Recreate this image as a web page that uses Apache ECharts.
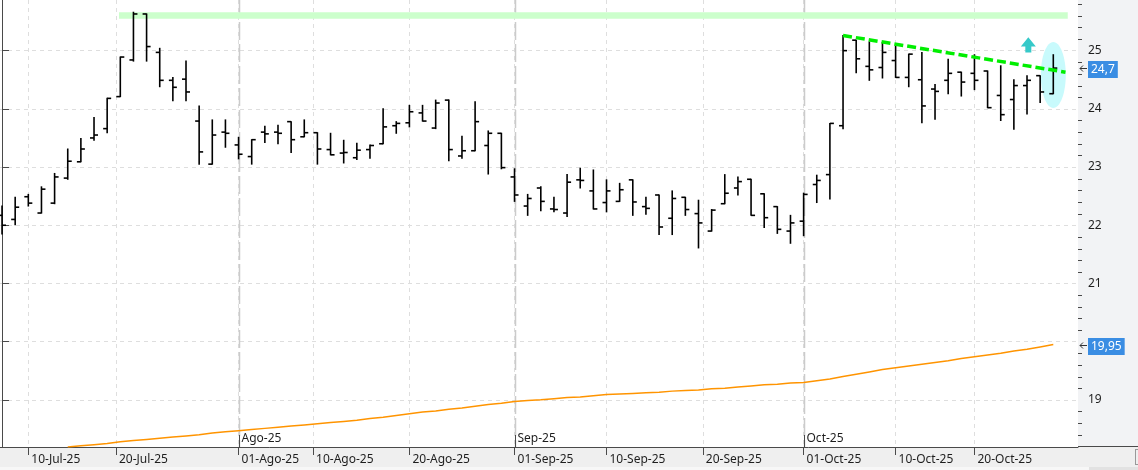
<!DOCTYPE html>
<html><head><meta charset="utf-8">
<script src="https://cdn.jsdelivr.net/npm/echarts@6/dist/echarts.min.js"></script>
<style>
html,body{margin:0;padding:0;background:#f2f3f5;overflow:hidden;}
#strip{position:absolute;left:0;top:447px;width:1138px;height:20px;background:#efefef;}
#strip2{position:absolute;left:0;top:467px;width:1089px;height:3px;background:#f7f7f7;}
#strip3{position:absolute;left:1089px;top:467px;width:49px;height:3px;background:#e2e2e2;}
#axl{position:absolute;left:0;top:446px;width:1138px;height:1px;background:#4a4a4a;}
#box{position:absolute;left:1135px;top:449px;width:6px;height:16px;border:1px solid #999;box-sizing:border-box;}
#c{position:absolute;left:0;top:0;width:1138px;height:470px;z-index:2;}
</style>
</head><body>
<div id="strip"></div><div id="strip2"></div><div id="strip3"></div><div id="axl"></div><div id="box"></div>
<div id="c"></div>
<script>
// ---- data (trading days, index = position on the x axis) ----
const days = [
 '08-Jul','09-Jul','10-Jul','11-Jul','14-Jul','15-Jul','16-Jul','17-Jul','18-Jul','21-Jul','22-Jul','23-Jul','24-Jul','25-Jul','28-Jul','29-Jul','30-Jul','31-Jul',
 '01-Ago','04-Ago','05-Ago','06-Ago','07-Ago','08-Ago','11-Ago','12-Ago','13-Ago','14-Ago','15-Ago','18-Ago','19-Ago','20-Ago','21-Ago','22-Ago','25-Ago','26-Ago','27-Ago','28-Ago','29-Ago',
 '01-Sep','02-Sep','03-Sep','04-Sep','05-Sep','08-Sep','09-Sep','10-Sep','11-Sep','12-Sep','15-Sep','16-Sep','17-Sep','18-Sep','19-Sep','22-Sep','23-Sep','24-Sep','25-Sep','26-Sep','29-Sep','30-Sep',
 '01-Oct','02-Oct','03-Oct','06-Oct','07-Oct','08-Oct','09-Oct','10-Oct','13-Oct','14-Oct','15-Oct','16-Oct','17-Oct','20-Oct','21-Oct','22-Oct','23-Oct','24-Oct','27-Oct','28-Oct'];
const opens  = [22.17,22.10,22.49,22.21,22.38,22.81,23.09,23.50,23.66,24.21,24.84,25.63,24.97,24.49,24.51,23.79,23.05,23.60,
 23.38,23.18,23.60,23.60,23.78,23.52,23.59,23.30,23.24,23.16,23.30,23.40,23.71,23.76,23.93,23.67,24.15,23.19,23.28,23.37,23.58,
 22.83,22.33,22.64,22.28,22.21,22.78,22.59,22.39,22.41,22.78,22.32,22.52,22.12,22.48,22.20,21.90,22.37,22.64,22.79,22.54,22.32,21.90,
 22.07,22.70,22.87,23.71,25.18,24.73,24.71,24.83,24.54,24.50,24.34,24.49,24.63,24.61,24.65,24.23,24.16,24.40,24.57,24.26];
const highs  = [22.33,22.48,22.53,22.66,22.89,23.31,23.49,23.85,24.18,24.89,25.66,25.63,25.04,24.54,24.82,24.05,23.81,23.81,
 23.51,23.47,23.70,23.72,23.78,23.81,23.59,23.58,23.46,23.41,23.38,24.00,23.78,24.06,24.06,24.15,24.15,23.53,24.12,23.62,23.58,
 22.97,22.53,22.66,22.48,22.87,22.98,22.95,22.78,22.72,22.78,22.48,22.52,22.59,22.48,22.43,22.27,22.87,22.83,22.79,22.54,22.32,22.17,
 22.55,22.86,23.75,25.26,25.18,25.15,25.14,25.09,24.94,24.97,24.42,24.85,24.63,24.93,24.65,24.74,24.50,24.57,24.57,24.93];
const lows   = [21.85,22.01,22.33,22.21,22.37,22.79,23.09,23.46,23.59,24.21,24.82,24.82,24.38,24.14,24.14,23.05,23.05,23.34,
 23.14,23.05,23.42,23.40,23.25,23.52,23.05,23.21,23.07,23.13,23.15,23.40,23.58,23.69,23.79,23.66,23.11,23.15,23.28,22.88,22.97,
 22.41,22.17,22.25,22.23,22.15,22.64,22.28,22.23,22.41,22.17,22.19,21.84,21.84,22.17,21.61,21.90,22.37,22.52,22.17,21.96,21.86,21.69,
 21.82,22.39,22.45,23.66,24.62,24.49,24.53,24.54,24.38,23.76,23.82,24.26,24.22,24.33,24.02,23.80,23.65,23.91,24.11,24.26];
const closes = [22.00,22.31,22.38,22.62,22.83,23.10,23.31,23.55,24.18,24.89,25.63,25.07,24.49,24.37,24.29,23.26,23.55,23.58,
 23.22,23.47,23.57,23.58,23.47,23.59,23.31,23.21,23.25,23.29,23.37,23.69,23.75,23.95,23.79,24.10,23.30,23.28,23.78,23.58,22.99,
 22.52,22.46,22.41,22.27,22.74,22.77,22.28,22.59,22.61,22.40,22.29,21.97,22.46,22.27,22.04,22.26,22.55,22.75,22.17,22.13,21.93,22.04,
 22.53,22.77,23.75,25.00,24.86,24.67,24.97,24.54,24.94,24.05,24.30,24.61,24.46,24.49,24.02,23.90,24.40,24.49,24.29,24.70];
// moving average (orange), starts at trading-day index 5
const maStart = 5;
const maValues = [18.19,18.21,18.23,18.25,18.28,18.30,18.32,18.34,18.36,18.38,18.40,18.43,18.45,18.47,18.49,18.51,18.53,18.55,18.57,18.59,
 18.61,18.63,18.65,18.68,18.70,18.73,18.76,18.79,18.81,18.84,18.86,18.89,18.92,18.94,18.97,18.99,19.00,19.02,19.04,19.05,
 19.07,19.09,19.10,19.11,19.12,19.13,19.15,19.16,19.17,19.19,19.20,19.22,19.24,19.26,19.27,19.29,19.30,19.33,19.36,19.40,
 19.44,19.48,19.52,19.55,19.58,19.61,19.64,19.67,19.71,19.74,19.77,19.80,19.84,19.87,19.91,19.95];
// x axis date ticks (weekend dates fall between trading days)
const xTickPos    = [2, 8.667, 18, 23.667, 31, 39, 46, 53.333, 61, 68, 74];
const xTickLabels = ['10-Jul-25','20-Jul-25','01-Ago-25','10-Ago-25','20-Ago-25','01-Sep-25','10-Sep-25','20-Sep-25','01-Oct-25','10-Oct-25','20-Oct-25'];
const monthPos    = [18, 39, 61];
const monthLabels = ['Ago-25','Sep-25','Oct-25'];
const yTicks      = [19, 20, 21, 22, 23, 24, 25];
// annotations (value coordinates)
const bandX = [8.9, 81.1];   const bandY = [25.55, 25.66];
const trendX = [64, 80.93];  const trendY = [25.26, 24.63];
const ovalCenter = [80, 24.58]; const ovalRadius = [0.95, 0.567];
const arrowX = 78.1; const arrowY = [24.97, 25.07, 25.23];

// ---- layout ----
const X_MIN = -0.155, X_MAX = 81.88, Y_MIN = 18.19, Y_MAX = 25.87;
const minorTicks = []; for (let k = 91; k <= 129; k++) if (k % 5 !== 0) minorTicks.push(k / 5);
const FONT = '"Noto Sans", sans-serif';
const tagValues = [closes[closes.length - 1], maValues[maValues.length - 1]];

const chart = echarts.init(document.getElementById('c'));
const fmt = v => String(v).replace('.', ',');

chart.setOption({
  animation: false,
  grid: {left: 0, right: 60, top: 0, bottom: 23, show: true, backgroundColor: '#ffffff', borderWidth: 0},
  xAxis: {
    type: 'value', min: X_MIN, max: X_MAX,
    axisLine: {show: true, onZero: false, lineStyle: {color: '#4a4a4a', width: 1}},
    axisTick: {show: true, customValues: xTickPos, length: 8, lineStyle: {color: '#4a4a4a'}},
    axisLabel: {customValues: xTickPos, hideOverlap: false, align: 'left', margin: 7, padding: [0,0,0,3],
      color: '#1e1e1e', fontSize: 12, fontFamily: FONT,
      formatter: v => { const i = xTickPos.findIndex(p => Math.abs(p - v) < 1e-3); return i >= 0 ? xTickLabels[i] : ''; }},
    splitLine: {show: true, lineStyle: {color: '#dedede', type: [4, 4], width: 1}}
  },
  yAxis: {
    type: 'value', position: 'right', min: Y_MIN, max: Y_MAX,
    axisLine: {show: true, lineStyle: {color: '#4a4a4a', width: 1}},
    axisTick: {show: true, customValues: yTicks, length: 7, lineStyle: {color: '#4a4a4a'}},
    axisLabel: {customValues: yTicks, margin: 10, color: '#1e1e1e', fontSize: 12, fontFamily: FONT,
      // labels hidden behind the last-value tags
      formatter: v => tagValues.some(t => Math.abs(t - v) < 0.15) ? '' : fmt(v)},
    splitLine: {show: true, lineStyle: {color: '#dedede', type: [4, 4], width: 1}}
  },
  series: [
    { // minor ticks of the price axis
      type: 'custom', z: 1, clip: false, silent: true,
      data: minorTicks.map(v => [X_MAX, v]),
      renderItem: (params, api) => {
        const p = api.coord([api.value(0), api.value(1)]); const y = Math.round(p[1]) + 0.5;
        return {type: 'line', shape: {x1: p[0], y1: y, x2: p[0] + 4, y2: y}, style: {stroke: '#4a4a4a', lineWidth: 1}};
      }
    },
    { // month separators
      type: 'custom', z: 1, clip: true,
      data: monthPos.map((p, i) => [p, i]),
      renderItem: (params, api) => {
        const cs = params.coordSys; const x = Math.round(api.coord([api.value(0), Y_MIN])[0]) + 0.5;
        const yb = cs.y + cs.height;
        return {type: 'group', children: [
          {type: 'line', shape: {x1: x, y1: cs.y, x2: x, y2: yb}, style: {stroke: '#cbcbcb', lineWidth: 1.5, lineDash: [18, 4]}},
          {type: 'line', shape: {x1: x, y1: yb - 12, x2: x, y2: yb}, style: {stroke: '#4a4a4a', lineWidth: 1}},
          {type: 'text', x: x + 2, y: yb - 8, style: {text: monthLabels[api.value(1)], fill: '#1e1e1e', font: '12px ' + FONT, textVerticalAlign: 'middle'}}
        ]};
      }
    },
    { // resistance band
      type: 'custom', z: 1, clip: true, data: [[bandX[0], bandY[0], bandX[1], bandY[1]]],
      renderItem: (params, api) => {
        const a = api.coord([api.value(0), api.value(3)]), b = api.coord([api.value(2), api.value(1)]);
        return {type: 'rect', shape: {x: a[0], y: a[1], width: b[0] - a[0], height: b[1] - a[1]}, style: {fill: '#ccffcc'}};
      }
    },
    { // highlight oval
      type: 'custom', z: 1, clip: true, data: [[ovalCenter[0], ovalCenter[1], ovalRadius[0], ovalRadius[1]]],
      renderItem: (params, api) => {
        const c = api.coord([api.value(0), api.value(1)]); const s = api.size([api.value(2), api.value(3)]);
        return {type: 'ellipse', shape: {cx: c[0], cy: c[1], rx: s[0], ry: s[1]}, style: {fill: '#c8fafc'}};
      }
    },
    { // moving average
      type: 'line', z: 2, showSymbol: false, symbol: 'none', clip: true,
      data: maValues.map((v, k) => [maStart + k, v]),
      lineStyle: {color: '#ff9400', width: 1.5}
    },
    { // OHLC bars
      type: 'custom', z: 3, clip: true,
      data: opens.map((o, i) => [i, o, highs[i], lows[i], closes[i]]),
      encode: {x: 0, y: [1, 2, 3, 4]},
      renderItem: (params, api) => {
        const i = api.value(0);
        const pO = api.coord([i, api.value(1)]), pH = api.coord([i, api.value(2)]);
        const pL = api.coord([i, api.value(3)]), pC = api.coord([i, api.value(4)]);
        const x = pH[0]; const st = {stroke: '#000', lineWidth: 1.6};
        return {type: 'group', children: [
          {type: 'line', shape: {x1: x, y1: pH[1] - 0.5, x2: x, y2: pL[1] + 0.5}, style: st},
          {type: 'line', shape: {x1: x - 4, y1: pO[1], x2: x, y2: pO[1]}, style: st},
          {type: 'line', shape: {x1: x, y1: pC[1], x2: x + 4, y2: pC[1]}, style: st}
        ]};
      }
    },
    { // descending trend line
      type: 'line', z: 4, showSymbol: false, symbol: 'none', clip: false,
      data: [[trendX[0], trendY[0]], [trendX[1], trendY[1]]],
      lineStyle: {color: '#00ee00', width: 3.5, type: [9, 4]}
    },
    { // up arrow
      type: 'custom', z: 4, clip: false, data: [[arrowX, arrowY[0], arrowY[1], arrowY[2]]],
      renderItem: (params, api) => {
        const x = api.coord([api.value(0), 0])[0];
        const yb = api.coord([0, api.value(1)])[1], yh = api.coord([0, api.value(2)])[1], yt = api.coord([0, api.value(3)])[1];
        return {type: 'polygon', shape: {points: [[x, yt], [x + 7.5, yh], [x + 3, yh], [x + 3, yb], [x - 3, yb], [x - 3, yh], [x - 7.5, yh]]},
          style: {fill: '#36c9c9'}};
      }
    },
    { // last-value tags on the price axis
      type: 'custom', z: 6, clip: false,
      data: tagValues.map(v => [X_MAX, v]),
      renderItem: (params, api) => {
        const p = api.coord([api.value(0), api.value(1)]); const x = p[0], y = Math.round(p[1]) + 0.5;
        const ar = {stroke: '#333', lineWidth: 1, fill: null};
        return {type: 'group', children: [
          {type: 'polyline', shape: {points: [[x + 9, y], [x + 2, y]]}, style: ar},
          {type: 'polyline', shape: {points: [[x + 5, y - 3], [x + 2, y], [x + 5, y + 3]]}, style: ar},
          {type: 'text', x: x + 10, y: y + 1, style: {text: fmt(api.value(1)), fill: '#ffffff', font: '12px ' + FONT,
            textVerticalAlign: 'middle', backgroundColor: '#3a8de3', padding: [3, 3, 2, 3]}}
        ]};
      }
    }
  ]
});
</script>
</body></html>
